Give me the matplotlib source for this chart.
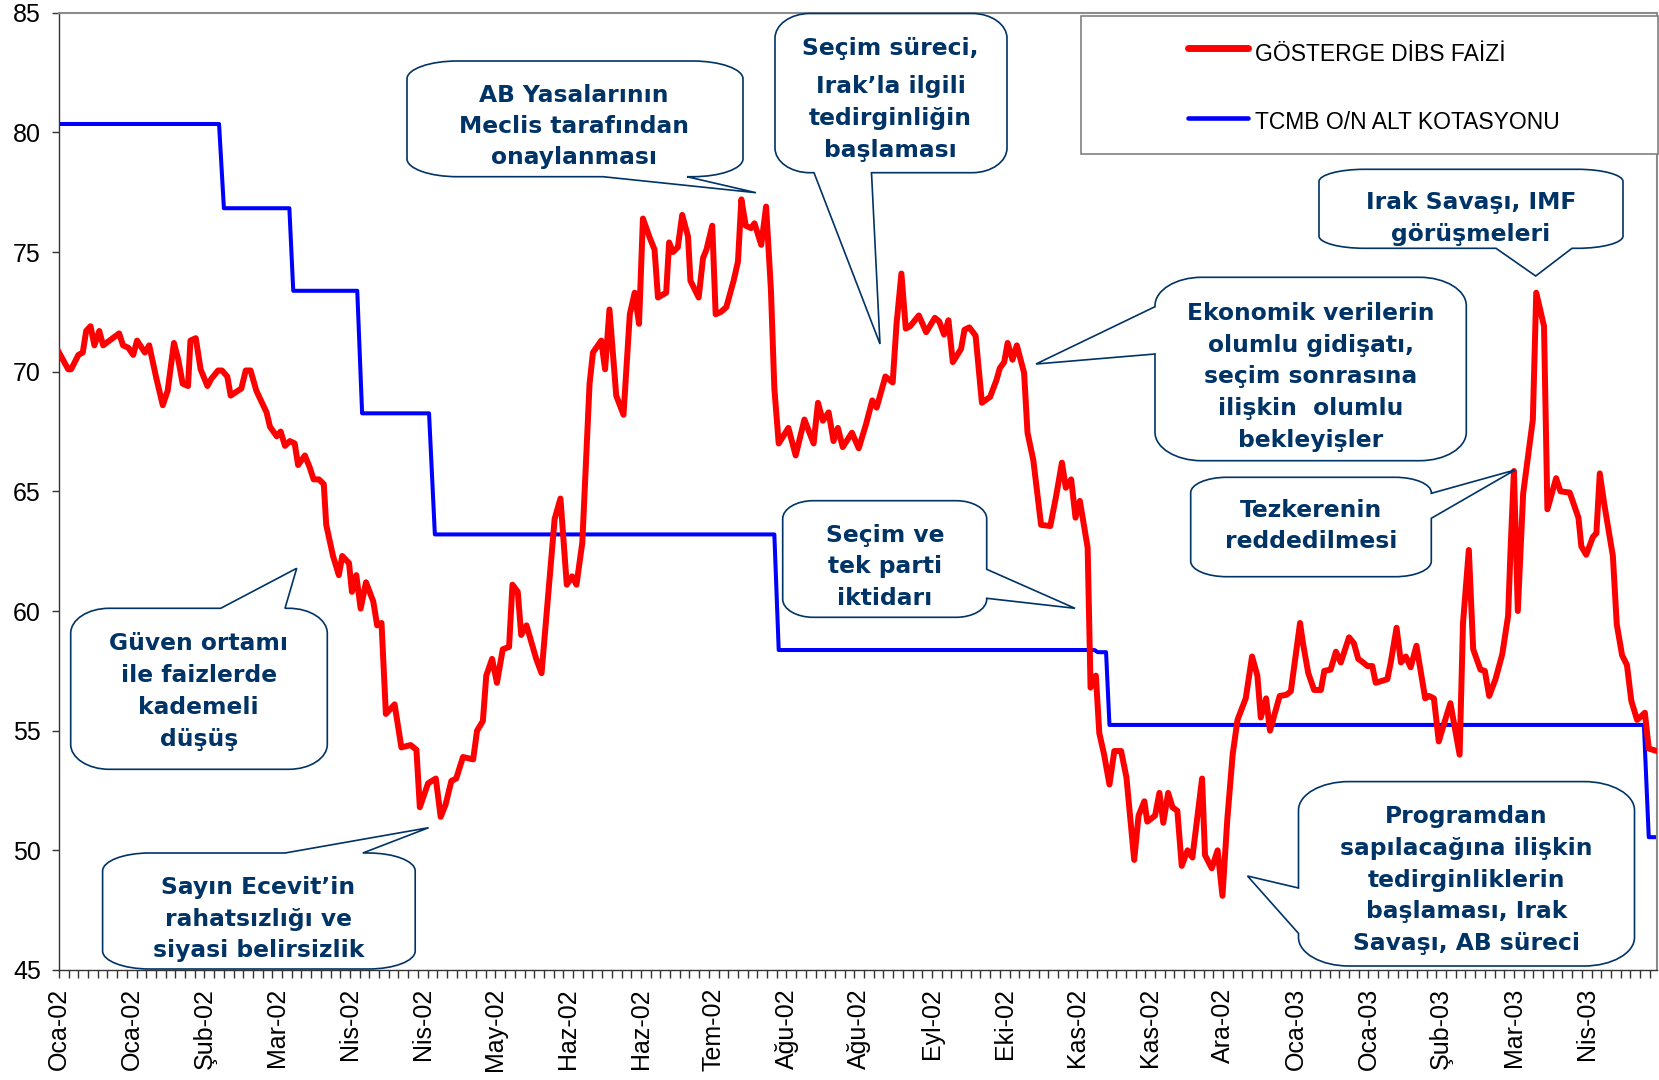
import matplotlib
matplotlib.use("Agg")
import matplotlib.pyplot as plt
from matplotlib.path import Path
from matplotlib.patches import PathPatch, Rectangle
from matplotlib.lines import Line2D
from matplotlib.transforms import Affine2D
from matplotlib.ticker import MultipleLocator, FixedLocator
from matplotlib import font_manager

# --- veriler (işgünü sırası, 2 Ocak 2002'den itibaren) ---
gun = [0.0, 1.9, 2.5, 4.0, 4.9, 5.6, 6.5, 7.3, 8.3, 9.1, 12.4, 13.2, 14.3, 15.3, 16.1,
       17.7, 18.6, 20.1, 21.4, 22.4, 23.7, 24.6, 25.5, 26.6, 27.1, 28.2, 29.2, 30.6,
       31.4, 32.8, 33.6, 34.7, 35.4, 37.6, 38.5, 39.5, 40.7, 42.8, 43.5, 44.9, 45.7,
       46.6, 47.6, 48.6, 49.3, 50.7, 51.7, 52.5, 53.6, 54.6, 55.1, 56.5, 57.7, 58.4,
       59.8, 60.4, 61.3, 62.2, 63.3, 64.8, 65.6, 66.5, 67.4, 69.2, 70.6, 72.5, 73.7,
       74.4, 76.1, 77.7, 78.7, 79.7, 80.9, 81.9, 83.3, 85.4, 86.2, 87.4, 88.1, 89.3,
       90.3, 91.5, 92.8, 93.5, 94.6, 95.3, 96.4, 98.4, 99.5, 102.2, 103.4, 104.7,
       105.8, 106.7, 107.9, 109.4, 110.1, 111.8, 112.6, 113.5, 114.9, 116.4, 117.7,
       118.7, 119.6, 120.4, 121.8, 122.8, 123.5, 125.2, 125.8, 126.6, 127.6, 128.5,
       129.7, 130.2, 131.9, 132.8, 133.5, 134.7, 135.4, 136.5, 137.6, 139.1, 140.0,
       140.7, 141.6, 142.7, 143.4, 144.8, 145.8, 146.8, 147.5, 148.4, 150.4, 151.9,
       153.7, 155.6, 156.5, 157.5, 158.7, 159.7, 160.6, 161.6, 163.5, 164.9, 166.4,
       167.7, 168.6, 170.4, 171.9, 172.7, 173.7, 174.6, 175.5, 177.3, 178.8, 180.6,
       181.5, 182.5, 183.4, 184.3, 186.0, 186.7, 187.7, 189.0, 190.3, 192.0, 193.3,
       194.0, 194.9, 195.6, 196.6, 197.5, 199.0, 199.7, 200.9, 202.5, 204.4, 205.6,
       206.8, 207.6, 208.7, 209.6, 210.5, 212.1, 212.7, 213.8, 214.5, 215.5, 216.6,
       217.6, 219.0, 220.1, 221.7, 222.6, 223.8, 224.4, 226.0, 226.9, 227.7, 228.7,
       229.6, 230.6, 231.5, 232.7, 233.7, 235.7, 236.3, 237.7, 238.9, 239.9, 240.9,
       242.0, 243.0, 244.7, 246.0, 247.1, 247.8, 248.9, 249.7, 251.7, 253.1, 254.0,
       255.9, 256.5, 257.6, 258.8, 260.2, 260.9, 262.2, 263.3, 264.3, 266.0, 267.0,
       267.9, 268.9, 269.8, 270.8, 271.5, 273.9, 274.6, 275.8, 276.7, 277.7, 278.7,
       279.9, 281.7, 282.5, 283.5, 284.5, 285.9, 286.9, 288.0, 288.8, 289.5, 290.7,
       291.6, 293.1, 294.0, 294.9, 296.2, 297.6, 298.8, 299.3, 300.0, 300.8, 301.9,
       303.9, 304.6, 306.2, 306.9, 308.7, 309.6, 311.5, 313.3, 313.9, 314.9, 316.3,
       317.0, 317.7, 318.6, 320.4, 321.2, 322.3, 323.3, 324.2, 325.4, 327.0, 327.8,
       329.5]
dibs = [70.8, 70.1, 70.1, 70.7, 70.8, 71.7, 71.9, 71.1, 71.7, 71.1, 71.6, 71.1, 71.0, 70.7,
        71.3, 70.8, 71.1, 69.7, 68.6, 69.2, 71.2, 70.5, 69.5, 69.4, 71.3, 71.4, 70.1,
        69.4, 69.7, 70.05, 70.05, 69.8, 69.0, 69.3, 70.05, 70.05, 69.2, 68.3, 67.7,
        67.3, 67.5, 66.9, 67.1, 67.0, 66.1, 66.5, 66.0, 65.5, 65.5, 65.3, 63.6, 62.3,
        61.5, 62.3, 62.0, 60.8, 61.5, 60.1, 61.2, 60.4, 59.4, 59.5, 55.7, 56.1, 54.3,
        54.4, 54.2, 51.8, 52.8, 53.0, 51.4, 51.9, 52.9, 53.0, 53.9, 53.8, 55.0, 55.4,
        57.3, 58.0, 57.0, 58.4, 58.5, 61.1, 60.8, 59.0, 59.4, 58.0, 57.4, 63.85, 64.7,
        61.1, 61.45, 61.1, 62.85, 69.5, 70.8, 71.3, 70.1, 72.6, 69.0, 68.2, 72.4, 73.3,
        72.0, 76.4, 75.6, 75.1, 73.1, 73.3, 75.4, 75.0, 75.2, 76.55, 75.65, 73.8, 73.1,
        74.75, 75.1, 76.1, 72.4, 72.5, 72.7, 73.8, 74.6, 77.2, 76.1, 76.0, 76.2, 75.3,
        76.9, 73.4, 69.3, 67.0, 67.65, 66.5, 68.0, 67.0, 68.7, 67.95, 68.3, 67.1, 67.65,
        66.85, 67.45, 66.8, 67.8, 68.8, 68.5, 69.8, 69.55, 72.0, 74.1, 71.8, 71.9,
        72.35, 71.65, 72.25, 72.1, 71.55, 72.15, 70.4, 70.95, 71.75, 71.85, 71.5, 68.7,
        68.95, 69.65, 70.15, 70.4, 71.2, 70.5, 71.1, 69.95, 67.45, 66.3, 63.6, 63.55,
        64.8, 66.2, 65.15, 65.5, 63.9, 64.6, 62.65, 56.8, 57.3, 54.9, 54.0, 52.75,
        54.15, 54.15, 53.05, 49.6, 51.45, 52.05, 51.2, 51.45, 52.4, 51.15, 52.4, 51.8,
        51.65, 49.35, 50.0, 49.7, 53.0, 49.8, 49.25, 50.0, 48.1, 51.3, 54.0, 55.45,
        56.35, 58.1, 57.3, 55.55, 56.35, 55.0, 56.45, 56.5, 56.65, 59.5, 58.65, 57.4,
        56.7, 56.7, 57.5, 57.55, 58.3, 57.85, 58.9, 58.65, 58.0, 57.85, 57.7, 57.7,
        57.0, 57.15, 57.85, 59.3, 57.85, 58.1, 57.65, 58.55, 56.35, 56.45, 56.35, 54.55,
        55.5, 56.15, 54.9, 54.0, 59.5, 62.55, 58.4, 57.55, 57.5, 56.45, 57.15, 58.2,
        59.8, 62.55, 65.85, 60.0, 64.9, 68.0, 73.3, 71.9, 64.25, 65.55, 65.0, 64.95,
        63.9, 62.7, 62.35, 63.1, 63.25, 65.75, 64.5, 62.3, 59.45, 58.15, 57.75, 56.25,
        55.45, 55.75, 54.25, 54.15]

tcmb_gun = [0, 33.0, 34.0, 47.5, 48.3, 61.5, 62.5, 76.3, 77.5, 147.5, 148.4, 213.5,
            214.2, 215.9, 216.6, 326.8, 327.8, 329.5]
tcmb = [80.35, 80.35, 76.83, 76.83, 73.38, 73.38, 68.26, 68.26, 63.2, 63.2, 58.37,
        58.37, 58.28, 58.28, 55.24, 55.24, 50.55, 50.55]

etiket = ['Oca-02', 'Oca-02', 'Şub-02', 'Mar-02', 'Nis-02', 'Nis-02', 'May-02',
          'Haz-02', 'Haz-02', 'Tem-02', 'Ağu-02', 'Ağu-02', 'Eyl-02', 'Eki-02',
          'Kas-02', 'Kas-02', 'Ara-02', 'Oca-03', 'Oca-03', 'Şub-03', 'Mar-03', 'Nis-03']
etiket_araligi = 15

seriler = ['GÖSTERGE DİBS FAİZİ', 'TCMB O/N ALT KOTASYONU']

plt.rcParams['font.family'] = ['Liberation Sans', 'DejaVu Sans']

W, H = 1659, 1080
fig = plt.figure(figsize=(W / 100, H / 100), dpi=100)
ax = fig.add_axes([59 / W, 1 - 970 / H, (1657 - 59) / W, (970 - 12.7) / H])

ax.plot(gun, dibs, color='#FF0000', lw=4.3, solid_joinstyle='round', zorder=3)
ax.plot(tcmb_gun, tcmb, color='#0000FF', lw=2.9, zorder=2)

ax.set_xlim(0, 329.5)
ax.set_ylim(45, 85)
ax.set_yticks(range(45, 86, 5))
ax.xaxis.set_major_locator(FixedLocator(range(0, etiket_araligi * len(etiket), etiket_araligi)))
ax.set_xticklabels(etiket, rotation=90)
ax.xaxis.set_minor_locator(MultipleLocator(2))
ax.xaxis.remove_overlapping_locs = False
ax.tick_params(axis='x', which='major', length=0, pad=13, labelsize=18)
ax.tick_params(axis='x', which='minor', length=6, width=1, color='#333333')
ax.tick_params(axis='y', length=5, width=1, pad=8, labelsize=18, color='#333333')

for s in ['left', 'bottom']:
    ax.spines[s].set_color('#333333')
    ax.spines[s].set_linewidth(1.0)
for s in ['top', 'right']:
    ax.spines[s].set_color('#8c8c8c')
    ax.spines[s].set_linewidth(1.5)

# piksel koordinatları (sol üst köşe başlangıç)
px = Affine2D().scale(1 / W, -1 / H).translate(0, 1) + fig.transFigure
lacivert = '#003366'


def balon(x0, y0, x1, y1, yan, b1, b2, uc):
    rx, ry, k = 0.15 * (x1 - x0), 0.155 * (y1 - y0), 0.5523
    v, c = [], []

    def L(p):
        v.append(p)
        c.append(Path.LINETO)

    def C(p1, p2, p):
        v.extend([p1, p2, p])
        c.extend([Path.CURVE4] * 3)

    v.append((x0 + rx, y0))
    c.append(Path.MOVETO)
    if yan == 'top':
        L((b1, y0)); L(uc); L((b2, y0))
    L((x1 - rx, y0))
    C((x1 - rx + k * rx, y0), (x1, y0 + ry - k * ry), (x1, y0 + ry))
    if yan == 'right':
        L((x1, b1)); L(uc); L((x1, b2))
    L((x1, y1 - ry))
    C((x1, y1 - ry + k * ry), (x1 - rx + k * rx, y1), (x1 - rx, y1))
    if yan == 'bottom':
        L((b2, y1)); L(uc); L((b1, y1))
    L((x0 + rx, y1))
    C((x0 + rx - k * rx, y1), (x0, y1 - ry + k * ry), (x0, y1 - ry))
    if yan == 'left':
        L((x0, b2)); L(uc); L((x0, b1))
    L((x0, y0 + ry))
    C((x0, y0 + ry - k * ry), (x0 + rx - k * rx, y0), (x0 + rx, y0))
    v.append((x0 + rx, y0))
    c.append(Path.CLOSEPOLY)
    fig.add_artist(PathPatch(Path(v, c), transform=px, facecolor='white',
                             edgecolor=lacivert, lw=1.2, zorder=5))


def yazi(cx, satirlar, tabanlar):
    for s, b in zip(satirlar, tabanlar):
        fig.text(cx, b, s, transform=px, ha='center', va='baseline', fontsize=16.8,
                 fontweight='bold', color=lacivert, family='DejaVu Sans', zorder=6)


balon(407, 61, 743, 176.7, 'bottom', 603, 687, (756, 192.7))
yazi(574, ['AB Yasalarının', 'Meclis tarafından', 'onaylanması'], [101.7, 133.3, 164.3])

balon(775, 13.5, 1007, 172.7, 'bottom', 814, 871.5, (880, 344))
yazi(890.5, ['Seçim süreci,', 'Irak’la ilgili', 'tedirginliğin', 'başlaması'],
     [55, 93.3, 125, 156.7])

balon(1319, 169.3, 1623, 248.3, 'bottom', 1496, 1572, (1535.7, 276))
yazi(1471, ['Irak Savaşı, IMF', 'görüşmeleri'], [209.3, 240.7])

balon(1155, 277.3, 1466.3, 460.7, 'left', 306.7, 354, (1036, 364))
yazi(1311, ['Ekonomik verilerin', 'olumlu gidişatı,', 'seçim sonrasına',
            'ilişkin  olumlu', 'bekleyişler'], [320, 351.7, 383.3, 415, 446.7])

balon(1190.7, 477.3, 1431.3, 576.7, 'right', 493.3, 518.3, (1515, 470))
yazi(1310.7, ['Tezkerenin', 'reddedilmesi'], [516.7, 548.3])

balon(1298.5, 781.6, 1634.5, 966, 'left', 888, 933.4, (1247.5, 876))
yazi(1466.4, ['Programdan', 'sapılacağına ilişkin', 'tedirginliklerin',
              'başlaması, Irak', 'Savaşı, AB süreci'], [823.3, 855, 886.7, 918.3, 950])

balon(782.7, 500.7, 986.7, 617.3, 'right', 569.3, 598.3, (1075, 608.3))
yazi(885, ['Seçim ve', 'tek parti', 'iktidarı'], [541.7, 573.3, 605])

balon(70.7, 608.3, 327.3, 769.3, 'top', 220.7, 285, (296.7, 568.3))
yazi(198.7, ['Güven ortamı', 'ile faizlerde', 'kademeli', 'düşüş'],
     [650, 681.7, 714.3, 745.7])

balon(102.6, 853, 415.2, 969, 'top', 285, 362.8, (428.6, 827.7))
yazi(258.5, ['Sayın Ecevit’in', 'rahatsızlığı ve', 'siyasi belirsizlik'],
     [894, 926, 957])

# lejant
adlar = {f.name for f in font_manager.fontManager.ttflist}
if 'Liberation Sans Narrow' in adlar:
    lej_font, lej_boy = 'Liberation Sans Narrow', 19
else:
    lej_font, lej_boy = 'Liberation Sans', 16.5
fig.add_artist(Rectangle((1081, 16), 577, 138, transform=px, facecolor='white',
                         edgecolor='#808080', lw=1.2, zorder=5))
fig.add_artist(Line2D([1188, 1248], [48.3, 48.3], transform=px, color='#FF0000',
                      lw=5, solid_capstyle='round', zorder=6))
fig.add_artist(Line2D([1188, 1248], [118.3, 118.3], transform=px, color='#0000FF',
                      lw=3.3, solid_capstyle='round', zorder=6))
for s, b in zip(seriler, [60.7, 129.3]):
    fig.text(1254.7, b, s, transform=px, ha='left', va='baseline', fontsize=lej_boy,
             family=lej_font, color='black', zorder=6)

fig.savefig('out.png', dpi=100)
